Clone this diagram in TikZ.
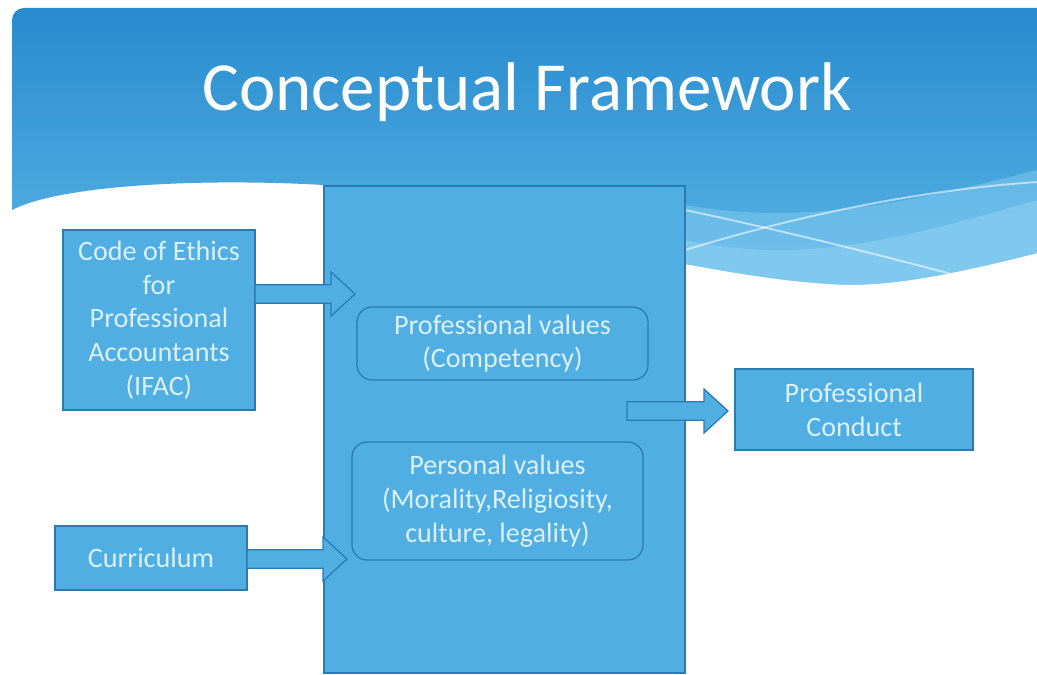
\documentclass[tikz,border=0pt]{standalone}
\usepackage{fontspec}
\setmainfont{Carlito}
\usetikzlibrary{calc,positioning}
\definecolor{hdrtop}{RGB}{38,138,205}
\definecolor{hdrbot}{RGB}{92,182,231}
\definecolor{wavelt}{RGB}{140,208,242}
\definecolor{boxfill}{RGB}{80,174,226}
\definecolor{boxline}{RGB}{42,122,180}
\definecolor{boxtext}{RGB}{218,241,251}
\tikzset{
  blk/.style={draw=boxline, fill=boxfill, line width=0.9pt, inner sep=0pt, outer sep=0pt,
    text=boxtext, align=center, font=\fontsize{20}{24}\selectfont},
  rblk/.style={blk, rounded corners=0.38cm},
  arrowbox/.style={draw=boxline, fill=boxfill, line width=0.9pt, line join=miter},
  title/.style={text=white, font=\fontsize{49}{54}\selectfont, anchor=base}
}
\newcommand{\blockarrow}[2]{%
  \draw[arrowbox] let \p1=(#1), \p2=(#2) in
    (\x1,\y1+6.6pt) -- (\x2-17pt,\y1+6.6pt) -- (\x2-17pt,\y1+15.6pt) -- (\x2,\y1)
    -- (\x2-17pt,\y1-15.6pt) -- (\x2-17pt,\y1-6.6pt) -- (\x1,\y1-6.6pt) -- cycle;}
\begin{document}
\begin{tikzpicture}[x=0.025cm, y=-0.025cm]
      \fill[white] (0,0) rectangle (1037,675);
      \useasboundingbox (0,0) rectangle (1037,675);
      \begin{scope}
        \clip (12,210) [rounded corners=0.3cm] -- (12,8) [sharp corners] -- (1037,8) -- (1037,253)
          .. controls (950,275) and (885,288) .. (830,284)
          .. controls (770,280) and (720,270) .. (685,264)
          -- (324,185) .. controls (200,178) and (60,185) .. (12,210) -- cycle;
        \shade[top color=hdrtop, bottom color=hdrbot] (0,0) rectangle (1037,300);
        \fill[wavelt, opacity=0.45] (685,205) .. controls (800,225) and (900,205) .. (1037,170)
          -- (1037,300) -- (685,300) -- cycle;
        \fill[wavelt, opacity=0.6] (685,240) .. controls (800,265) and (900,240) .. (1037,200)
          -- (1037,300) -- (685,300) -- cycle;
        \draw[white, opacity=0.55, line width=1.4pt] (685,210) .. controls (780,230) and (880,255) .. (955,275);
        \draw[white, opacity=0.55, line width=1.4pt] (685,250) .. controls (800,215) and (920,190) .. (1037,182);
      \end{scope}
      \node[title] (ttl) at (527,111) {Conceptual Framework};
      \node[blk, minimum width=9.025cm, minimum height=12.175cm] (main) at (504.5,429.5) {};
      \node[blk, minimum width=4.8cm, minimum height=4.5cm] (code) at (159,320)
        {Code of Ethics\\for\\Professional\\Accountants\\(IFAC)};
      \node[blk, minimum width=4.8cm, minimum height=1.6cm] (curr) at (151,558) {Curriculum};
      \node[blk, minimum width=5.95cm, minimum height=2.025cm] (cond) at (854,409.5)
        {Professional\\Conduct};
      \coordinate (ethin) at (355,294);
      \coordinate (curin) at (347,559);
      \coordinate (outst) at (627,411);
      \blockarrow{code.east |- ethin}{ethin}
      \blockarrow{curr.east |- curin}{curin}
      \blockarrow{outst}{$(cond.west |- outst)+(-7,0)$}
      \node[rblk, minimum width=7.275cm, minimum height=1.825cm] (prof) at (502.5,343.5)
        {Professional values\\(Competency)};
      \node[rblk, minimum width=7.275cm, minimum height=2.95cm] (pers) at (497.5,501)
        {Personal values\\(Morality,Religiosity,\\culture, legality)};
\end{tikzpicture}
\end{document}
